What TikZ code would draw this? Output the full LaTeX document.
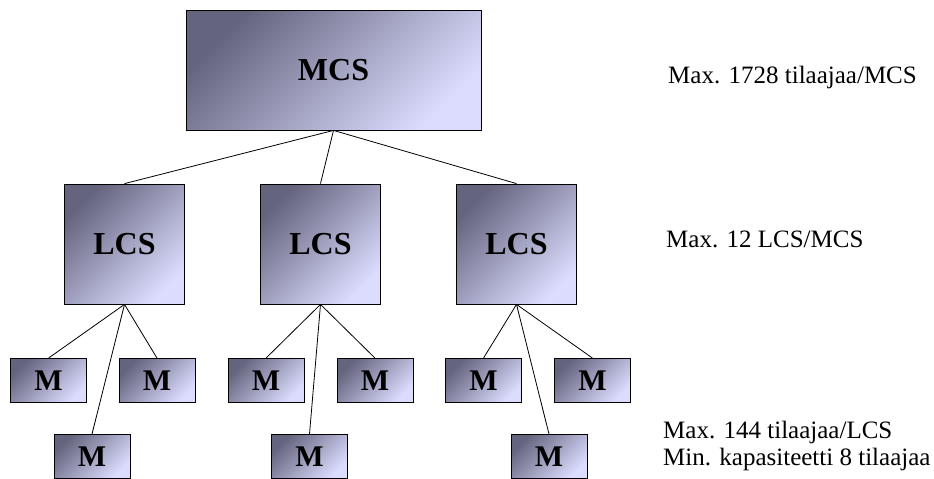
\documentclass[tikz,border=0pt]{standalone}
\usepackage{fontspec}
\setmainfont{Liberation Serif}
\usetikzlibrary{positioning}
\definecolor{boxdark}{RGB}{100,100,126}
\definecolor{boxlight}{RGB}{220,220,255}
\tikzset{
  unitbox/.style={draw, line width=0.8pt, inner sep=0pt,
    top color=boxdark, bottom color=boxlight, shading angle=45,
    font=\fontsize{32}{38}\selectfont\bfseries},
  mbox/.style={unitbox, minimum width=76pt, minimum height=44pt,
    font=\fontsize{30}{36}\selectfont\bfseries},
  note/.style={anchor=base west, inner sep=0pt, font=\fontsize{25}{30}\selectfont},
  link/.style={line width=0.8pt}
}
\begin{document}
\begin{tikzpicture}[x=1pt,y=-1pt]
\useasboundingbox (0,0) rectangle (934,479);
% keskus
\node[unitbox, minimum width=295pt, minimum height=120pt] (mcs) at (333.5,70) {MCS};
% paikalliset keskukset
\foreach \i/\x in {1/124.5, 2/320.5, 3/516.5}
  \node[unitbox, minimum width=120pt, minimum height=120pt] (lcs\i) at (\x,244) {LCS};
% modulit
\foreach \i/\a/\b/\c in {1/48.5/157/92, 2/266/375/309.5, 3/483.5/592.5/549}{
  \node[mbox] (m\i a) at (\a,380.5) {M};
  \node[mbox] (m\i b) at (\b,380.5) {M};
  \node[mbox] (m\i c) at (\c,456.5) {M};
}
\foreach \i in {1,2,3}{
  \draw[link] (mcs.south) -- (lcs\i.north);
  \foreach \j in {a,b,c}
    \draw[link] (lcs\i.south) -- (m\i\j.north);
}
% kapasiteetit
\node[note] (mcsmax) at (668,83) {Max. 1728 tilaajaa/MCS};
\node[note] (lcsmax) at (666,247) {Max. 12 LCS/MCS};
\node[note] (subsmax) at (663,438) {Max. 144 tilaajaa/LCS};
\node[note] (mincap) at (663,465) {Min. kapasiteetti 8 tilaajaa};
\end{tikzpicture}
\end{document}
